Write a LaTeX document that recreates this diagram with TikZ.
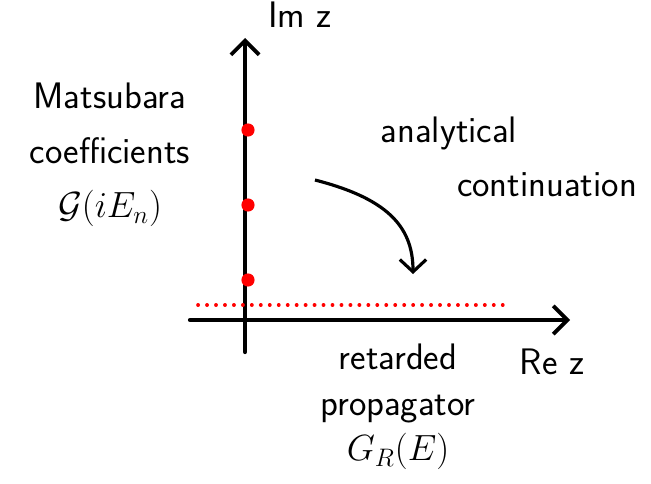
\documentclass[tikz,border=0pt]{standalone}
\usepackage{amsmath,amssymb}
\usepackage{tikz}
\usetikzlibrary{arrows.meta, positioning}
\tikzstyle{axis} = [line width=2.4pt, -{Straight Barb[length=8pt,width=16pt,line width=2.2pt]}, line cap=round]
\tikzstyle{contarrow} = [line width=1.8pt, -{Straight Barb[length=7pt,width=15pt,line width=1.8pt]}]
\tikzstyle{pole} = [circle, fill=red, inner sep=0pt, minimum size=7.5pt]
\tikzstyle{label2} = [align=center, font=\sffamily\fontsize{21}{31}\selectfont]
\tikzstyle{cutline} = [red, line width=2.1pt, line cap=round, dash pattern=on 0.1pt off 5pt]

\begin{document}
\begin{tikzpicture}[x=0.02cm, y=-0.02cm]
            \useasboundingbox (0,0) rectangle (651,483);
            % Axes
            \coordinate (ybot) at (245,352);
            \coordinate (ytop) at (245,38);
            \coordinate (xleft) at (190,320);
            \coordinate (xright) at (570,320);
            \draw [axis] (ybot) -- (ytop);
            \draw [axis] (xleft) -- (xright);
            \node (imz) [label2] at (300,15) {Im z};
            \node (rez) [label2] at (552,362) {Re z};

            % Matsubara poles
            \node (pole1) [pole] at (248,130) {};
            \node (pole2) [pole] at (248,205) {};
            \node (pole3) [pole] at (248,280) {};
            \coordinate (cutstart) at (198,305);
            \coordinate (cutend) at (510,305);
            \draw [cutline] (cutstart) -- (cutend);

            % Labels
            \node (matsubara) [label2] at (110,155) {Matsubara\\coefficients\\$\mathcal{G}(iE_n)$};
            \node (analytical) [label2] at (449,133) {analytical};
            \node (continuation) [label2] at (547,185) {continuation};
            \node (retarded) [label2, font=\sffamily\fontsize{21}{26}\selectfont] at (398,407) {retarded\\propagator\\$G_R(E)$};

            % Continuation arrow
            \coordinate (arrstart) at (315,180);
            \coordinate (arrend) at (413,274);
            \draw [contarrow] (arrstart) .. controls (385,198) and (413,225) .. (arrend);
        \end{tikzpicture}
\end{document}
